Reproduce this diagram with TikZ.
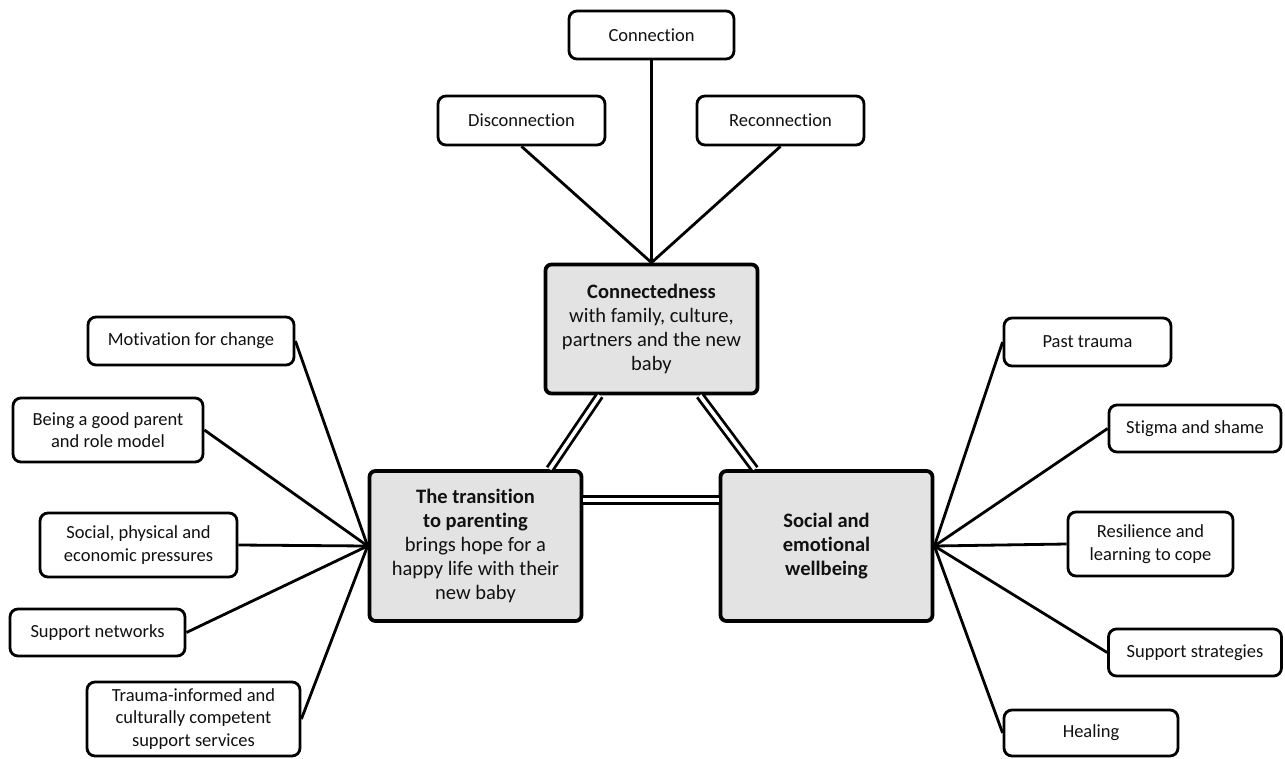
\documentclass[tikz,border=0pt]{standalone}
\usepackage{fontspec}
\setmainfont{Carlito}[Ligatures=NoCommon]
\usepackage{xcolor}
\usepackage{tikz}
\usetikzlibrary{positioning,calc}
\definecolor{ink}{HTML}{000000}
\definecolor{hubfill}{HTML}{E3E3E3}
\definecolor{text}{HTML}{111111}

\begin{document}
\begin{tikzpicture}[x=1pt, y=-1pt,
    leaf/.style={draw=ink, line width=2.8pt, rounded corners=8pt, fill=white,
      align=center, text=text, inner sep=2pt,
      font=\fontsize{18.5}{22.5}\selectfont},
    hub/.style={draw=ink, line width=3.8pt, rounded corners=6pt, fill=hubfill,
      align=center, text=text, minimum width=212pt, inner sep=2pt,
      font=\fontsize{20.5}{24}\selectfont},
    spoke/.style={draw=ink, line width=2.8pt},
    link/.style={draw=ink, double=white, line width=2.8pt, double distance=3.6pt}]
  \useasboundingbox (0,0) rectangle (1285,758);

  % three themes
  \node[hub, minimum height=129pt] (conn) at (651.5,329)
    {\textbf{Connectedness}\\with family, culture,\\partners and the new\\baby};
  \node[hub, minimum height=150pt] (trans) at (475.5,546)
    {\textbf{The transition}\\\textbf{to parenting}\\brings hope for a\\happy life with their\\new baby};
  \node[hub, minimum height=150pt] (soc) at (826.5,546)
    {\textbf{Social and}\\\textbf{emotional}\\\textbf{wellbeing}};

  % links between themes
  \draw[link] (conn.232) -- (trans.46);
  \draw[link] (conn.-54) -- (soc.133.5);
  \draw[link] ([yshift=46pt]trans.east) -- ([yshift=46pt]soc.west);

  % connectedness
  \node[leaf, minimum width=165pt, minimum height=48pt] (connect) at (651.5,35) {Connection};
  \node[leaf, minimum width=167pt, minimum height=49pt] (disconn) at (521.5,120.5) {Disconnection};
  \node[leaf, minimum width=167pt, minimum height=49pt] (reconn) at (780.5,120.5) {Reconnection};
  \foreach \leaf in {connect,disconn,reconn}
    \draw[spoke] (\leaf.south) -- (conn.north);

  % transition to parenting
  \node[leaf, minimum width=206pt, minimum height=48pt] (motiv) at (191,341) {Motivation for change};
  \node[leaf, minimum width=190pt, minimum height=64pt] (parent) at (108,430)
    {Being a good parent\\and role model};
  \node[leaf, minimum width=197pt, minimum height=64pt] (press) at (138.5,545)
    {Social, physical and\\economic pressures};
  \node[leaf, minimum width=175pt, minimum height=47pt] (netw) at (97.5,632.5) {Support networks};
  \node[leaf, minimum width=213pt, minimum height=74pt] (serv) at (193.5,719)
    {Trauma-informed and\\culturally competent\\support services};
  \foreach \leaf in {motiv,parent,press,netw,serv}
    \draw[spoke] (\leaf.east) -- (trans.west);

  % social and emotional wellbeing
  \node[leaf, minimum width=167pt, minimum height=48pt] (trauma) at (1087.5,342) {Past trauma};
  \node[leaf, minimum width=172pt, minimum height=47pt] (stigma) at (1195,428.5) {Stigma and shame};
  \node[leaf, minimum width=165pt, minimum height=64pt] (resil) at (1150.5,544)
    {Resilience and\\learning to cope};
  \node[leaf, minimum width=173pt, minimum height=47pt] (strat) at (1195,652.5) {Support strategies};
  \node[leaf, minimum width=174pt, minimum height=46pt] (heal) at (1091,733) {Healing};
  \foreach \leaf in {trauma,stigma,resil,strat,heal}
    \draw[spoke] (\leaf.west) -- (soc.east);
\end{tikzpicture}
\end{document}
